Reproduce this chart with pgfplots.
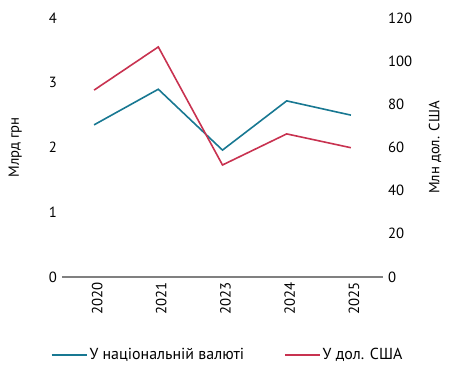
\documentclass[border=0pt]{standalone}
\usepackage{fontspec}
\setmainfont{PT Sans}
\usepackage{pgfplots}
\pgfplotsset{compat=1.18}
\definecolor{tealc}{RGB}{24,120,146}
\definecolor{redc}{RGB}{200,50,80}
\definecolor{axgray}{RGB}{128,128,128}
\newcommand{\fs}{\fontsize{14.8}{17}\selectfont}
\newcommand{\fl}{\fontsize{16}{18}\selectfont}
\begin{document}
\fs
\begin{tikzpicture}
\useasboundingbox (-62bp,-95bp) rectangle (387bp,277bp);
\pgfplotsset{
  common/.style={
    at={(0,0)}, anchor=south west,
    scale only axis, width=321bp, height=259bp,
    xmin=-0.5, xmax=4.5,
    major tick length=0pt,
    tick style={draw=none},
    /pgf/number format/assume math mode=true,
    every tick label/.append style={font=\fs},
    label style={font=\fs},
  }
}
\begin{axis}[
  common,
  ymin=0, ymax=4,
  ytick={0,1,2,3,4},
  axis x line*=bottom,
  axis y line*=left,
  y axis line style={draw=none},
  x axis line style={draw=axgray, line width=1.3bp, -},
  xtick={0,1,2,3,4},
  xticklabels={2020,2021,2023,2024,2025},
  xticklabel style={rotate=90, anchor=east, yshift=-3bp},
  ylabel={Млрд грн},
  ylabel style={at={(axis description cs:-0.146,0.5)}, anchor=center},
  legend style={at={(axis description cs:0.516,-0.301)}, anchor=center, draw=none, fill=none,
    legend columns=2, font=\fl,
    /tikz/every even column/.append style={column sep=38bp}},
  legend cell align=left,
  legend image code/.code={\draw[#1] (0bp,0bp) -- (35bp,0bp);},
]
\addplot[tealc, line width=1.6bp] coordinates {(0,2.35) (1,2.90) (2,1.96) (3,2.72) (4,2.50)};
\addlegendentry{У національній валюті}
\addlegendimage{redc, line width=1.6bp}
\addlegendentry{У дол. США}
\end{axis}
\begin{axis}[
  common,
  ymin=0, ymax=120,
  ytick={0,20,40,60,80,100,120},
  axis x line=none,
  axis y line*=right,
  y axis line style={draw=none},
  ylabel={Млн дол. США},
  ylabel style={at={(axis description cs:1.162,0.5)}, anchor=center, rotate=0},
]
\addplot[redc, line width=1.6bp] coordinates {(0,86.6) (1,106.6) (2,51.9) (3,66.3) (4,59.9)};
\end{axis}
\end{tikzpicture}
\end{document}
